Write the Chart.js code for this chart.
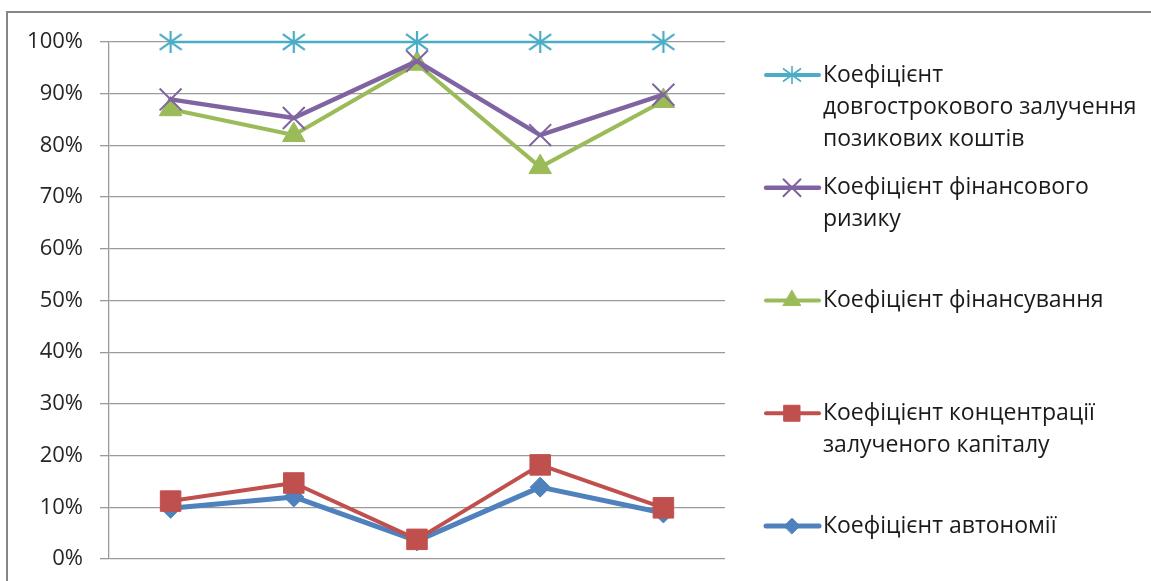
<!DOCTYPE html>
<html>
<head>
<meta charset="utf-8">
<script src="https://cdn.jsdelivr.net/npm/chart.js@4/dist/chart.umd.min.js"></script>
<style>
  html, body { margin: 0; padding: 0; background: #fff; overflow: hidden; }
  #wrap { position: absolute; left: 0; top: 0; width: 1151px; height: 581px; }
</style>
</head>
<body>
<div id="wrap"><canvas id="c" width="1151" height="581"></canvas></div>
<script>
// ---- data ----
const categories = ['1', '2', '3', '4', '5'];
const yTicks = [0, 10, 20, 30, 40, 50, 60, 70, 80, 90, 100];

const nameLongTerm = ['Коефіцієнт', 'довгострокового залучення', 'позикових коштів'];
const nameFinRisk = ['Коефіцієнт фінансового', 'ризику'];
const nameFinancing = ['Коефіцієнт фінансування'];
const nameConcentration = ['Коефіцієнт концентрації', 'залученого капіталу'];
const nameAutonomy = ['Коефіцієнт автономії'];

const longTerm = [100, 100, 100, 100, 100];
const finRisk = [88.9, 85.3, 96.3, 82.0, 89.8];
const financing = [87.0, 82.0, 95.8, 75.8, 88.6];
const concentration = [11.2, 14.7, 3.8, 18.2, 9.9];
const autonomy = [9.8, 12.0, 3.5, 13.9, 8.9];

// ---- styles ----
const C_CYAN = '#4BACC6', C_PURPLE = '#8064A2', C_GREEN = '#9BBB59', C_RED = '#C0504D', C_BLUE = '#4F81BD';
const FONT = '"Open Sans", "DejaVu Sans", sans-serif';

function makeStar(size, color, lw) {
  const c = document.createElement('canvas');
  c.width = size; c.height = size;
  const g = c.getContext('2d');
  const h = size / 2, r = size / 2 - 1;
  g.strokeStyle = color; g.lineWidth = lw; g.lineCap = 'butt';
  g.beginPath();
  g.moveTo(h, h - r); g.lineTo(h, h + r);
  g.moveTo(h - r, h - r * 0.72); g.lineTo(h + r, h + r * 0.72);
  g.moveTo(h - r, h + r * 0.72); g.lineTo(h + r, h - r * 0.72);
  g.stroke();
  return c;
}
const starBig = makeStar(24, C_CYAN, 2.2);
const starSmall = makeStar(20, C_CYAN, 1.6);

function ds(names, data, color, width, style, radius, bw, fill) {
  return {
    label: names.join(' '),
    legendLines: names,
    data: data,
    borderColor: color,
    backgroundColor: fill ? color : 'rgba(0,0,0,0)',
    borderWidth: width,
    pointStyle: style,
    pointRadius: radius,
    pointHoverRadius: radius,
    pointBorderWidth: bw,
    pointBorderColor: color,
    pointBackgroundColor: fill ? color : 'rgba(0,0,0,0)',
    borderJoinStyle: 'round',
    borderCapStyle: 'round',
    tension: 0,
    clip: false
  };
}

const datasets = [
  ds(nameLongTerm, longTerm, C_CYAN, 2.5, starBig, 12, 2, false),
  ds(nameFinRisk, finRisk, C_PURPLE, 4.5, 'crossRot', 15.5, 2, false),
  ds(nameFinancing, financing, C_GREEN, 4, 'triangle', 13, 1, true),
  ds(nameConcentration, concentration, C_RED, 4, 'rect', 14.5, 1, true),
  ds(nameAutonomy, autonomy, C_BLUE, 5, 'rectRot', 10, 1, true)
];
datasets[0].legendImage = starSmall;

const framePlugin = {
  id: 'frame',
  beforeDraw(chart) {
    const ctx = chart.ctx;
    ctx.save();
    ctx.strokeStyle = '#868686';
    ctx.lineWidth = 2;
    ctx.strokeRect(7, 12, 1300, 700);
    ctx.restore();
  }
};

const legendPlugin = {
  id: 'sideLegend',
  afterDraw(chart) {
    const ctx = chart.ctx;
    const x0 = 766, x1 = 819, xm = 792, xt = 823;
    const top = 75, step = 112.75, lineH = 32;
    chart.data.datasets.forEach((d, i) => {
      const y = top + i * step;
      ctx.save();
      ctx.strokeStyle = d.borderColor;
      ctx.lineWidth = Math.max(d.borderWidth, 4);
      ctx.lineCap = 'round';
      ctx.beginPath(); ctx.moveTo(x0, y); ctx.lineTo(x1, y); ctx.stroke();
      if (d.legendImage) {
        ctx.drawImage(d.legendImage, xm - d.legendImage.width / 2, y - d.legendImage.height / 2);
      } else {
        ctx.fillStyle = d.pointBackgroundColor;
        ctx.strokeStyle = d.pointBorderColor;
        ctx.lineWidth = d.pointBorderWidth;
        Chart.helpers.drawPoint(ctx, {
          pointStyle: d.pointStyle,
          rotation: 0,
          radius: d.pointRadius * 0.78,
          borderWidth: d.pointBorderWidth
        }, xm, y);
      }
      ctx.fillStyle = '#1a1a1a';
      ctx.font = '23px ' + FONT;
      ctx.textBaseline = 'middle';
      ctx.textAlign = 'left';
      d.legendLines.forEach((t, k) => ctx.fillText(t, xt, y + k * lineH));
      ctx.restore();
    });
  }
};

new Chart(document.getElementById('c'), {
  type: 'line',
  data: { labels: categories, datasets: datasets },
  options: {
    responsive: false,
    animation: false,
    events: [],
    layout: { autoPadding: false, padding: { left: 0, top: 42, right: 426, bottom: 22 } },
    plugins: { legend: { display: false }, tooltip: { enabled: false } },
    scales: {
      x: {
        display: false,
        offset: true
      },
      y: {
        min: 0, max: 100,
        afterBuildTicks(s) { s.ticks = yTicks.map(v => ({ value: v })); },
        ticks: {
          callback: v => v + '%',
          font: { family: FONT, size: 22 },
          color: '#262626',
          padding: 17
        },
        grid: { color: '#9a9a9a', lineWidth: 1.3, tickLength: 9, drawTicks: true },
        border: { display: true, color: '#9a9a9a', width: 1.3 },
        afterFit(s) { s.width = 109; s.paddingTop = 0; s.paddingBottom = 0; }
      }
    }
  },
  plugins: [framePlugin, legendPlugin]
});
</script>
</body>
</html>
